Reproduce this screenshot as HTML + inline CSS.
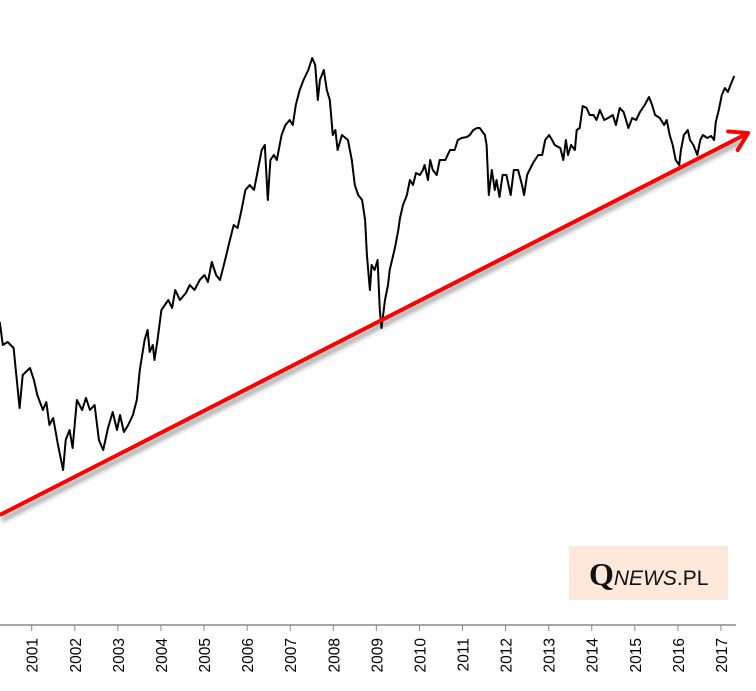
<!DOCTYPE html>
<html><head><meta charset="utf-8"><style>
html,body{margin:0;padding:0;background:#fff;}
svg{display:block;font-family:"Liberation Sans",sans-serif;}
</style></head><body>
<svg id="chart" width="756" height="691" viewBox="0 0 756 691" xmlns="http://www.w3.org/2000/svg">
<defs><filter id="sh" x="-5%" y="-50%" width="110%" height="200%"><feGaussianBlur stdDeviation="2"/></filter></defs>
<g id="plot"></g>
<g id="axis"></g>
<g>
<rect x="569" y="546" width="159" height="54" fill="#fde8da"/>
<text x="589" y="585" fill="#111"><tspan font-family="Liberation Serif,serif" font-weight="bold" font-size="32">Q</tspan><tspan font-style="italic" font-size="21">NEWS</tspan><tspan font-size="21">.PL</tspan></text>
</g>
</svg>
<script>
const years = [2001,2002,2003,2004,2005,2006,2007,2008,2009,2010,2011,2012,2013,2014,2015,2016,2017];
const dates = [2000.26,2000.33,2000.44,2000.58,2000.72,2000.79,2000.96,2001.05,2001.13,2001.26,2001.34,2001.41,2001.50,2001.61,2001.73,2001.79,2001.88,2001.95,2002.05,2002.17,2002.26,2002.35,2002.46,2002.56,2002.66,2002.77,2002.88,2002.98,2003.05,2003.14,2003.24,2003.35,2003.44,2003.51,2003.62,2003.69,2003.74,2003.81,2003.85,2003.92,2004.01,2004.17,2004.26,2004.33,2004.44,2004.58,2004.67,2004.78,2004.90,2005.01,2005.09,2005.18,2005.28,2005.37,2005.49,2005.60,2005.69,2005.78,2005.87,2005.96,2006.06,2006.16,2006.25,2006.34,2006.41,2006.48,2006.54,2006.62,2006.69,2006.80,2006.89,2006.99,2007.06,2007.13,2007.22,2007.31,2007.42,2007.51,2007.58,2007.64,2007.69,2007.78,2007.85,2007.92,2007.99,2008.05,2008.10,2008.20,2008.34,2008.43,2008.50,2008.58,2008.67,2008.74,2008.78,2008.85,2008.89,2008.96,2009.03,2009.08,2009.12,2009.20,2009.27,2009.31,2009.43,2009.51,2009.55,2009.62,2009.71,2009.78,2009.85,2009.92,2010.01,2010.08,2010.12,2010.20,2010.25,2010.31,2010.40,2010.47,2010.60,2010.71,2010.82,2010.89,2010.98,2011.10,2011.17,2011.25,2011.34,2011.40,2011.52,2011.56,2011.61,2011.68,2011.75,2011.79,2011.86,2011.93,2012.02,2012.12,2012.19,2012.29,2012.38,2012.43,2012.50,2012.59,2012.65,2012.76,2012.85,2012.92,2013.01,2013.08,2013.14,2013.27,2013.34,2013.40,2013.45,2013.52,2013.61,2013.65,2013.72,2013.79,2013.88,2013.95,2014.04,2014.11,2014.19,2014.29,2014.38,2014.49,2014.56,2014.65,2014.74,2014.85,2014.94,2015.03,2015.12,2015.23,2015.33,2015.40,2015.47,2015.58,2015.68,2015.74,2015.81,2015.88,2015.95,2016.03,2016.07,2016.14,2016.23,2016.28,2016.36,2016.45,2016.52,2016.58,2016.68,2016.77,2016.84,2016.88,2016.95,2017.02,2017.09,2017.16,2017.22,2017.31];
const ys = [322,345,342,348,408,375,368,380,395,410,402,425,418,445,470,440,430,448,400,410,398,410,405,440,450,428,412,430,415,432,425,415,400,370,340,330,352,345,360,340,310,300,308,290,300,293,285,290,280,275,282,262,275,280,260,240,225,228,210,190,185,190,170,150,145,200,160,155,160,135,125,120,125,105,90,80,70,58,65,100,80,70,90,100,135,130,150,135,140,160,185,195,200,220,255,290,265,270,260,310,328,300,285,270,248,230,218,205,195,180,185,173,175,170,165,180,160,170,175,160,160,150,150,140,138,137,135,130,128,128,135,145,195,170,190,180,197,175,175,195,170,170,185,195,175,167,162,155,155,140,135,140,145,148,160,140,155,145,150,130,128,106,108,115,115,120,110,120,118,115,125,108,112,128,118,120,112,105,97,105,115,118,125,120,135,145,160,165,150,135,130,140,145,155,140,135,138,136,140,122,110,95,88,92,85,76];
const values = ys.map(y => 624 - y); // index level
const trendDates = [2000.26, 2017.63];
const trendValues = [109, 491];

const NS = "http://www.w3.org/2000/svg";
function xScale(t){ return 31.7 + (t - 2001) * 43.08; }
function yScale(v){ return 624 - v; }

const plot = document.getElementById('plot');
const axis = document.getElementById('axis');

const shadow = document.createElementNS(NS,'line');


shadow.setAttribute('x1',xScale(trendDates[0])+2); shadow.setAttribute('y1',yScale(trendValues[0])+5);
shadow.setAttribute('x2',xScale(trendDates[1])-8); shadow.setAttribute('y2',yScale(trendValues[1])+9);
shadow.setAttribute('stroke','#888'); shadow.setAttribute('stroke-width','5'); shadow.setAttribute('filter','url(#sh)'); shadow.setAttribute('opacity','0.7');
plot.appendChild(shadow);

let d = '';
dates.forEach((t,i)=>{ d += (i?'L':'M') + xScale(t).toFixed(1) + ',' + yScale(values[i]).toFixed(1); });
const line = document.createElementNS(NS,'path');


line.setAttribute('d',d); line.setAttribute('fill','none'); line.setAttribute('stroke','#000'); line.setAttribute('stroke-width','2'); line.setAttribute('stroke-linejoin','round');
plot.appendChild(line);

const x1 = xScale(trendDates[0]), y1 = yScale(trendValues[0]), x2 = xScale(trendDates[1]), y2 = yScale(trendValues[1]);
const tl = document.createElementNS(NS,'line');


tl.setAttribute('x1',x1); tl.setAttribute('y1',y1); tl.setAttribute('x2',x2); tl.setAttribute('y2',y2);
tl.setAttribute('stroke','#ff0000'); tl.setAttribute('stroke-width','4');
plot.appendChild(tl);
const ang = Math.atan2(y2-y1, x2-x1);
const L = 20, sp = 0.55;
const head = document.createElementNS(NS,'path');


head.setAttribute('d', `M${x2-L*Math.cos(ang-sp)},${y2-L*Math.sin(ang-sp)}L${x2},${y2}L${x2-L*Math.cos(ang+sp)},${y2-L*Math.sin(ang+sp)}`);
head.setAttribute('fill','none'); head.setAttribute('stroke','#ff0000'); head.setAttribute('stroke-width','4'); head.setAttribute('stroke-linecap','round'); head.setAttribute('stroke-linejoin','round');
plot.appendChild(head);

const al = document.createElementNS(NS,'line');


al.setAttribute('x1',0); al.setAttribute('y1',625); al.setAttribute('x2',736); al.setAttribute('y2',625);
al.setAttribute('stroke','#888'); al.setAttribute('stroke-width','1.5');
axis.appendChild(al);
years.forEach(yr=>{
  const x = xScale(yr);
  const tk = document.createElementNS(NS,'line');
  
  
  tk.setAttribute('x1',x); tk.setAttribute('x2',x); tk.setAttribute('y1',625); tk.setAttribute('y2',631);
  tk.setAttribute('stroke','#888');
  axis.appendChild(tk);
  const tx = document.createElementNS(NS,'text');
  
  
  tx.setAttribute('transform',`translate(${x+6},638) rotate(-90)`);
  tx.setAttribute('text-anchor','end'); tx.setAttribute('font-size','15.5'); tx.setAttribute('fill','#000');
  tx.textContent = yr;
  axis.appendChild(tx);
});
</script>
</body></html>
